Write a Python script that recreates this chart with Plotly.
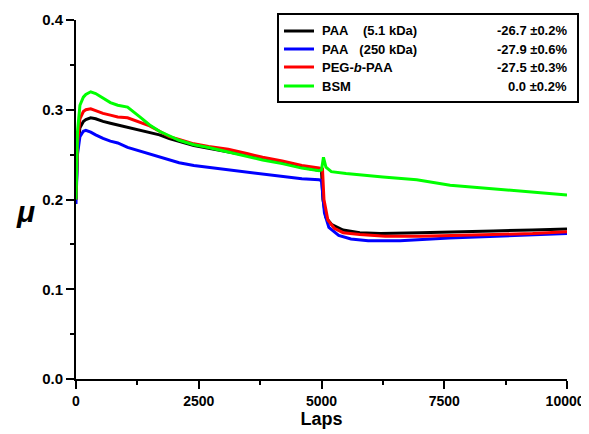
import plotly.graph_objects as go

# ---- data ----
x_early = [0, 30, 80, 150, 200, 300, 400, 550, 700, 850, 1050, 1300, 1500, 1700,
           1900, 2100, 2400, 2700, 3100, 3500, 3800, 4200, 4600, 4950]

paa51_early = [0.200, 0.255, 0.280, 0.287, 0.289, 0.291, 0.290, 0.287, 0.285, 0.283, 0.281, 0.277,
               0.275, 0.272, 0.268, 0.265, 0.260, 0.257, 0.253, 0.249, 0.245, 0.241, 0.236, 0.233]
paa51_late_x = [5000, 5030, 5090, 5210, 5440, 5780, 6200, 7000, 7600, 8500, 9300, 10000]
paa51_late = [0.232, 0.200, 0.180, 0.172, 0.166, 0.163, 0.162, 0.163, 0.164, 0.165, 0.166, 0.167]

paa250_early = [0.195, 0.250, 0.270, 0.276, 0.277, 0.275, 0.272, 0.268, 0.265, 0.263, 0.258, 0.254,
                0.250, 0.247, 0.244, 0.241, 0.238, 0.236, 0.233, 0.230, 0.228, 0.226, 0.223, 0.222]
paa250_late_x = [5000, 5060, 5150, 5350, 5600, 5950, 6600, 7600, 8500, 9300, 10000]
paa250_late = [0.221, 0.185, 0.169, 0.160, 0.156, 0.154, 0.154, 0.157, 0.159, 0.160, 0.162]

peg_early = [0.200, 0.262, 0.290, 0.298, 0.300, 0.301, 0.299, 0.296, 0.294, 0.292, 0.291, 0.286,
             0.282, 0.276, 0.270, 0.267, 0.262, 0.259, 0.256, 0.251, 0.247, 0.243, 0.238, 0.235]
peg_late_x = [5020, 5050, 5130, 5260, 5440, 5780, 6300, 7000, 7600, 8500, 9300, 10000]
peg_late = [0.234, 0.200, 0.177, 0.168, 0.163, 0.161, 0.159, 0.159, 0.160, 0.161, 0.162, 0.164]

bsm_early = [0.200, 0.275, 0.305, 0.314, 0.317, 0.320, 0.318, 0.313, 0.308, 0.305, 0.303, 0.292,
             0.283, 0.276, 0.271, 0.266, 0.261, 0.258, 0.253, 0.248, 0.244, 0.240, 0.235, 0.232]
bsm_late_x = [5000, 5040, 5090, 5200, 5500, 6250, 6940, 7620, 8500, 9300, 10000]
bsm_late = [0.233, 0.247, 0.236, 0.231, 0.229, 0.225, 0.222, 0.216, 0.212, 0.208, 0.205]

names = ["PAA    (5.1 kDa)", "PAA   (250 kDa)", "PEG-<i>b</i>-PAA", "BSM"]
changes = ["-26.7 \u00b10.2%", "-27.9 \u00b10.6%", "-27.5 \u00b10.3%", "0.0 \u00b10.2%"]
colors = ["#000000", "#0000ff", "#ff0000", "#00ff00"]

x_ticks = [0, 2500, 5000, 7500, 10000]
x_ticktext = ["0", "2500", "5000", "7500", "10000&nbsp;"]
y_ticks = [0.0, 0.1, 0.2, 0.3, 0.4]

series = [
    (x_early + paa51_late_x, paa51_early + paa51_late),
    (x_early + paa250_late_x, paa250_early + paa250_late),
    (x_early + peg_late_x, peg_early + peg_late),
    (x_early + bsm_late_x, bsm_early + bsm_late),
]

FONT = "Liberation Sans, Arial, sans-serif"

fig = go.Figure()
for (xs, ys), nm, c in zip(series, names, colors):
    fig.add_trace(go.Scatter(x=xs, y=ys, mode="lines", name=nm,
                             line=dict(color=c, width=3), showlegend=False))

axis_common = dict(showline=True, linecolor="black", linewidth=2, ticks="outside",
                   tickwidth=2, ticklen=8, tickcolor="black", showgrid=False, zeroline=False,
                   mirror=False, automargin=False)

fig.update_xaxes(range=[0, 10000], tickvals=x_ticks, ticktext=x_ticktext,
                 tickfont=dict(family=FONT, size=14, color="black", weight="bold"),
                 minor=dict(dtick=1250, tick0=0, ticks="outside", ticklen=4, tickwidth=2,
                            tickcolor="black", showgrid=False),
                 title=dict(text="Laps", font=dict(family=FONT, size=18, color="black", weight="bold"),
                            standoff=3),
                 **axis_common)
fig.update_yaxes(range=[0, 0.4], tickvals=y_ticks, ticktext=[f"{v:.1f}" for v in y_ticks],
                 tickfont=dict(family=FONT, size=15, color="black", weight="bold"),
                 minor=dict(dtick=0.05, tick0=0, ticks="outside", ticklen=4, tickwidth=2,
                            tickcolor="black", showgrid=False),
                 **axis_common)

# page has an 8px body margin: the plot area should sit at page px 76..567 x 20..379
PX0, PX1, PY0, PY1 = 76, 567, 20, 379
def px(x):
    return (x - PX0) / (PX1 - PX0)
def py(y):
    return (PY1 - y) / (PY1 - PY0)

shapes = [dict(type="rect", xref="paper", yref="paper", x0=px(278), x1=px(578), y0=py(102), y1=py(14),
               line=dict(color="black", width=2), fillcolor="white", layer="above")]
annotations = [dict(xref="paper", yref="paper", x=px(25), y=py(212),
                    xanchor="center", yanchor="middle", text="<i>\u03bc</i>", showarrow=False,
                    font=dict(family=FONT, size=30, color="black", weight="bold"))]
row_py = [31, 49, 67, 86]
for rp, nm, ch, c in zip(row_py, names, changes, colors):
    yp = py(rp)
    shapes.append(dict(type="line", xref="paper", yref="paper",
                       x0=px(284), x1=px(314), y0=yp, y1=yp,
                       line=dict(color=c, width=3), layer="above"))
    annotations.append(dict(xref="paper", yref="paper", x=px(320), y=yp,
                            xanchor="left", yanchor="middle", text=nm.replace("  ", "&nbsp; "),
                            showarrow=False,
                            font=dict(family=FONT, size=13, color="black", weight="bold")))
    annotations.append(dict(xref="paper", yref="paper", x=px(569), y=yp,
                            xanchor="right", yanchor="middle", text=ch, showarrow=False,
                            font=dict(family=FONT, size=13, color="black", weight="bold")))

fig.update_layout(width=581, height=426, margin=dict(l=68, r=22, t=12, b=55),
                  plot_bgcolor="white", paper_bgcolor="white",
                  shapes=shapes, annotations=annotations, showlegend=False)

fig.write_html("out.html")
